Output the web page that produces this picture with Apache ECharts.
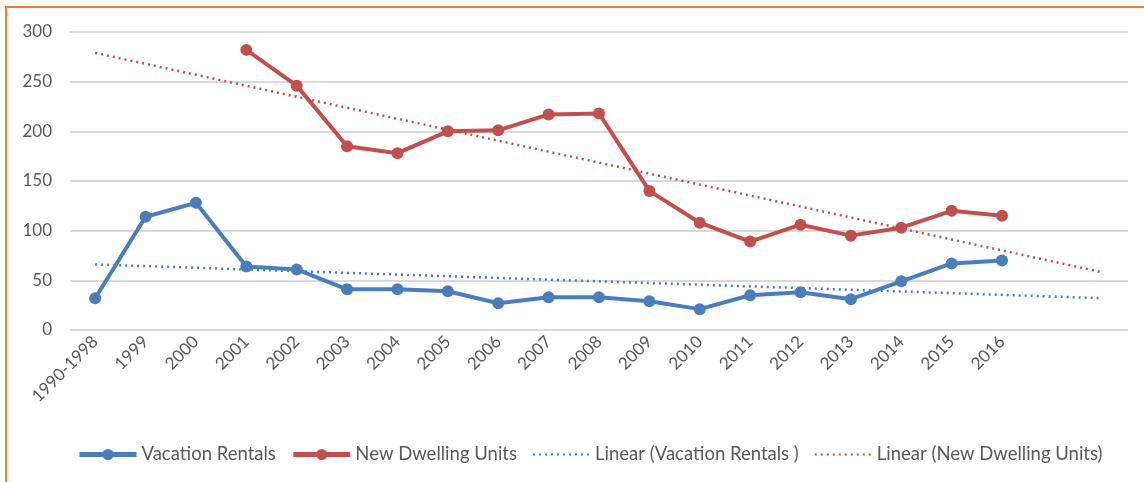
<!DOCTYPE html>
<html>
<head>
<meta charset="utf-8">
<script src="https://cdn.jsdelivr.net/npm/echarts@6/dist/echarts.min.js"></script>
<style>
  html, body { margin: 0; padding: 0; background: #fff; }
  #chart { width: 1144px; height: 482px; }
</style>
</head>
<body>
<div id="chart"></div>
<script>
// years on the x axis (last two slots are only reached by the trendlines)
const years = ['1990-1998', '1999', '2000', '2001', '2002', '2003', '2004', '2005', '2006',
  '2007', '2008', '2009', '2010', '2011', '2012', '2013', '2014', '2015', '2016', '', '']

const vacationRentals = [32, 114, 128, 64, 61, 41, 41, 39, 27, 33, 33, 29, 21, 35, 38, 31, 49, 67, 70]
const newDwellingUnits = [null, null, null, 282, 246, 185, 178, 200, 201, 217, 218, 140, 108, 89, 106, 95, 103, 120, 115]

// trendline end values (first and last slot)
const trendVacation = [66, 32]
const trendDwelling = [279, 58]

const BLUE = '#4a7ebb'
const RED = '#c0504d'

function trendData(ends) {
  const arr = years.map(() => null)
  arr[0] = ends[0]
  arr[years.length - 1] = ends[1]
  return arr
}

const chart = echarts.init(document.getElementById('chart'))
const font = 'Lato'

const option = {
  animation: false,
  textStyle: { fontFamily: font },
  grid: { left: 70, right: 16, top: 32, bottom: 152 },
  xAxis: {
    type: 'category',
    data: years,
    boundaryGap: true,
    axisLine: { show: false },
    axisTick: { show: false },
    axisLabel: {
      rotate: 45,
      interval: 0,
      color: '#595959',
      fontSize: 17,
      fontFamily: font,
      margin: 9
    }
  },
  yAxis: {
    type: 'value',
    min: 0,
    max: 300,
    interval: 50,
    axisLine: { show: false },
    axisTick: { show: false },
    axisLabel: { color: '#595959', fontSize: 17, fontFamily: font, margin: 18 },
    splitLine: { lineStyle: { color: '#d9d9d9', width: 2 } }
  },
  legend: {
    bottom: 13,
    left: 72,
    itemWidth: 57,
    itemHeight: 14,
    itemGap: 15,
    textStyle: { color: '#595959', fontSize: 18.5, fontFamily: font },
    data: [
      { name: 'Vacation Rentals', lineStyle: { width: 5 } },
      { name: 'New Dwelling Units', lineStyle: { width: 5 } },
      { name: 'Linear (Vacation Rentals )', itemStyle: { opacity: 0 } },
      { name: 'Linear (New Dwelling Units)', itemStyle: { opacity: 0 } }
    ]
  },
  graphic: [{
    type: 'polyline',
    shape: { points: [[6, 482], [6, 7], [1144, 7]] },
    style: { stroke: '#ed7d31', lineWidth: 2, fill: null },
    silent: true
  }],
  series: [
    {
      name: 'Vacation Rentals',
      type: 'line',
      data: vacationRentals,
      color: BLUE,
      symbol: 'circle',
      symbolSize: 12,
      lineStyle: { width: 4, color: BLUE },
      itemStyle: { color: BLUE },
      z: 4
    },
    {
      name: 'New Dwelling Units',
      type: 'line',
      data: newDwellingUnits,
      color: RED,
      symbol: 'circle',
      symbolSize: 12,
      lineStyle: { width: 4, color: RED },
      itemStyle: { color: RED },
      z: 4
    },
    {
      name: 'Linear (Vacation Rentals )',
      type: 'line',
      data: trendData(trendVacation),
      connectNulls: true,
      color: BLUE,
      symbol: 'none',
      lineStyle: { width: 2.5, color: BLUE, type: [2, 4] },
      z: 3
    },
    {
      name: 'Linear (New Dwelling Units)',
      type: 'line',
      data: trendData(trendDwelling),
      connectNulls: true,
      color: RED,
      symbol: 'none',
      lineStyle: { width: 2.5, color: RED, type: [2, 4] },
      z: 3
    }
  ]
}

option && chart.setOption(option)
</script>
</body>
</html>
